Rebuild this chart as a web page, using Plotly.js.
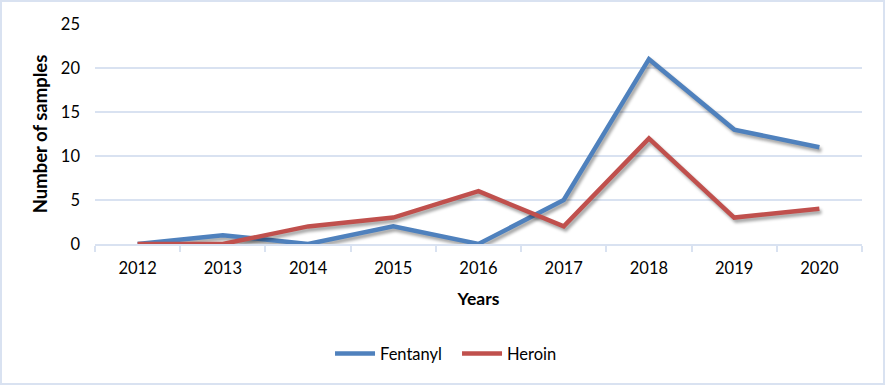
<!DOCTYPE html>
<html><head><meta charset="utf-8">
<script src="https://cdn.plot.ly/plotly-3.0.1.min.js"></script>
<style>
html,body{margin:0;padding:0;background:#fff;}
#wrap{position:relative;width:885px;height:385px;}
#chart{width:885px;height:385px;}
#frame{position:absolute;left:0;top:0;width:885px;height:385px;box-sizing:border-box;border:2px solid #d9e2f1;pointer-events:none;}
.scatterlayer .trace path.js-line{filter:drop-shadow(2px 3px 1.5px rgba(0,0,0,0.35));}
</style></head>
<body>
<div id="wrap"><div id="chart"></div><div id="frame"></div></div>
<script>
const years = ['2012','2013','2014','2015','2016','2017','2018','2019','2020'];
const fentanyl = [0,1,0,2,0,5,21,13,11];
const heroin = [0,0,2,3,6,2,12,3,4];
const fontFam = 'Lato, "Open Sans", sans-serif';
const data = [
  {x: years, y: fentanyl, name: 'Fentanyl', type: 'scatter', mode: 'lines',
   line: {color: '#4f81bd', width: 4.5}},
  {x: years, y: heroin, name: 'Heroin', type: 'scatter', mode: 'lines',
   line: {color: '#c0504d', width: 4.5}}
];
const layout = {
  width: 885, height: 385,
  margin: {l: 95, r: 23, t: 24, b: 141},
  paper_bgcolor: '#fff', plot_bgcolor: '#fff',
  font: {family: fontFam, size: 16.5, color: '#000'},
  showlegend: true,
  legend: {orientation: 'h', x: 0.472, xanchor: 'center', y: -0.42, yanchor: 'top',
           font: {size: 16.5}, itemwidth: 40, entrywidth: 72, traceorder: 'normal'},
  xaxis: {type: 'category', range: [-0.5, 8.5], showgrid: false, showline: true, linecolor: '#d9e2f1', linewidth: 2,
          ticks: 'outside', tickson: 'boundaries', ticklen: 6, tickcolor: '#d9e2f1', tickwidth: 2,
          ticklabelstandoff: 8,
          title: {text: 'Years', font: {size: 17.5, weight: 'bold'}, standoff: 16}},
  yaxis: {range: [0, 25], dtick: 5, showline: false, zeroline: false,
          gridcolor: '#d9e2f1', gridwidth: 2, ticks: '', ticklabelstandoff: 14,
          title: {text: 'Number of samples', font: {size: 18.5, weight: 'bold'}, standoff: 8}}
};
Plotly.newPlot('chart', data, layout, {displayModeBar: false, staticPlot: true});
</script>
</body></html>
